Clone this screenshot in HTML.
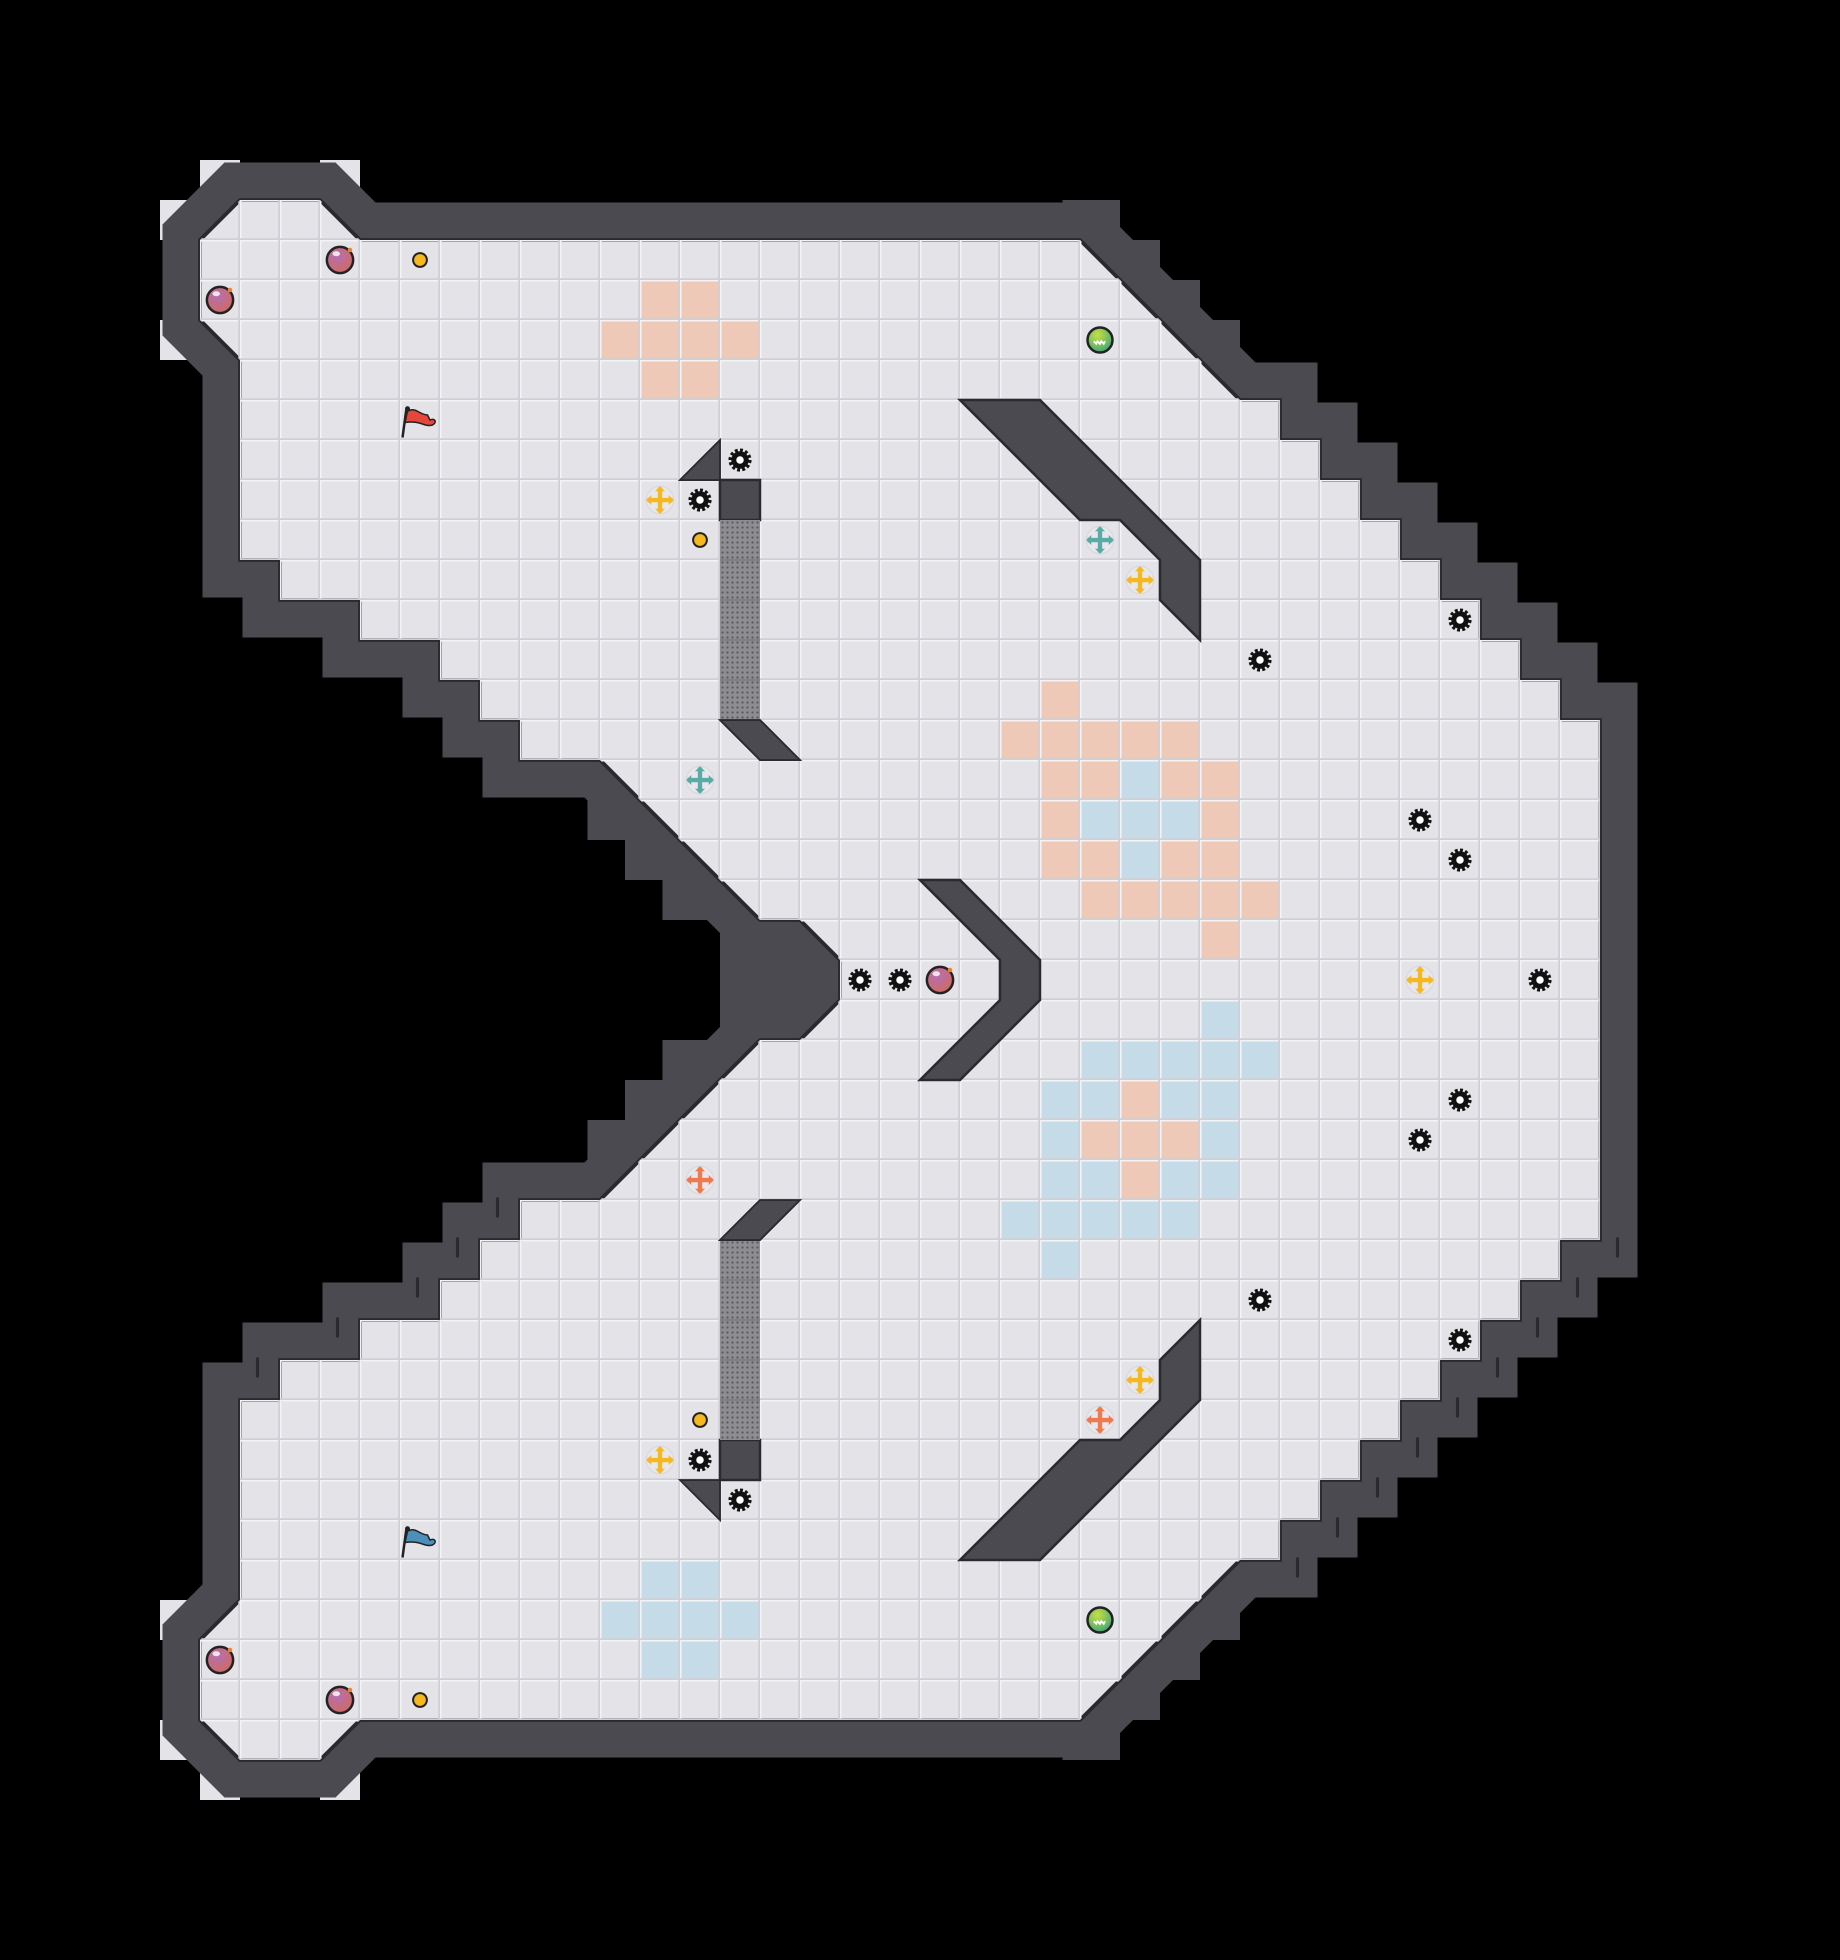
<!DOCTYPE html>
<html><head><meta charset="utf-8"><style>
html,body{margin:0;padding:0;background:#000;}
svg{display:block}
</style></head><body>
<svg width="1840" height="1960" viewBox="0 0 1472 1568" xmlns="http://www.w3.org/2000/svg">
<defs>
<pattern id="gl" width="32" height="32" patternUnits="userSpaceOnUse">
<rect x="0" y="0" width="32" height="1.2" fill="#f3f3f6"/>
<rect x="0" y="0" width="1.2" height="32" fill="#f3f3f6"/>
<rect x="0" y="30.6" width="32" height="1.4" fill="#cfcfd6"/>
<rect x="30.6" y="0" width="1.4" height="32" fill="#cfcfd6"/>
</pattern>
<pattern id="dots" width="4" height="4" patternUnits="userSpaceOnUse">
<rect width="4" height="4" fill="#8e8e92"/>
<circle cx="2" cy="2" r="0.9" fill="#5a5a5e"/>
</pattern>
<polygon id="fl" points="160,192 192,160 256,160 288,192 864,192 992,320 1024,320 1024,352 1056,352 1056,384 1088,384 1088,416 1120,416 1120,448 1152,448 1152,480 1184,480 1184,512 1216,512 1216,544 1248,544 1248,576 1280,576 1280,992 1248,992 1248,1024 1216,1024 1216,1056 1184,1056 1184,1088 1152,1088 1152,1120 1120,1120 1120,1152 1088,1152 1088,1184 1056,1184 1056,1216 1024,1216 1024,1248 992,1248 864,1376 288,1376 256,1408 192,1408 160,1376 160,1312 192,1280 192,1120 224,1120 224,1088 288,1088 288,1056 352,1056 352,1024 384,1024 384,992 416,992 416,960 480,960 608,832 640,832 672,800 672,768 640,736 608,736 480,608 416,608 416,576 384,576 384,544 352,544 352,512 288,512 288,480 224,480 224,448 192,448 192,288 160,256"/>
<g id="gear">
<circle r="7.5" fill="none" stroke="#111" stroke-width="3.5" stroke-dasharray="2.2 1.7"/>
<circle r="7" fill="#111"/>
<circle r="3" fill="#fff"/>
</g>
<radialGradient id="pg" cx="0.4" cy="0.35" r="0.7"><stop offset="0" stop-color="#b66fb5"/><stop offset="1" stop-color="#d06a5a"/></radialGradient>
<g id="orb">
<circle r="10.5" fill="url(#pg)" stroke="#222" stroke-width="2"/>
<ellipse cx="-3" cy="-5" rx="3" ry="2" fill="#fff" opacity="0.8"/>
<circle cx="8" cy="-8" r="1.8" fill="#f08030"/>
</g>
<radialGradient id="gg" cx="0.4" cy="0.3" r="0.8"><stop offset="0" stop-color="#c8e040"/><stop offset="1" stop-color="#30a080"/></radialGradient>
<g id="gorb">
<circle r="10" fill="url(#gg)" stroke="#222" stroke-width="2"/>
<path d="M-5 1 l2 2 l1-2 l2 2 l1-2 l2 2 l1-2" stroke="#fff" stroke-width="1.5" fill="none"/>
</g>
<g id="dot"><circle r="5.5" fill="#f5b820" stroke="#222" stroke-width="1.6"/></g>
<g id="cross">
<circle r="11" fill="#e8e8ec" stroke="#d8d8de"/>
<path d="M-10 0 H10 M0 -10 V10" stroke="currentColor" stroke-width="3.5"/>
<path d="M-11 0 l4 -4 v8 z M11 0 l-4 -4 v8 z M0 -11 l-4 4 h8 z M0 11 l-4 -4 h8 z" fill="currentColor"/>
</g>
<g id="obst">
<polygon points="768,320 832,320 960,448 960,512 928,480 928,448 896,416 864,416" fill="#4b4a50" stroke="#2a2a2e" stroke-width="2"/>
<polygon points="544,384 576,352 576,384" fill="#4b4a50" stroke="#2a2a2e" stroke-width="1.5"/>
<rect x="576" y="384" width="32" height="32" fill="#4b4a50" stroke="#2a2a2e" stroke-width="2"/>
<rect x="576" y="416" width="32" height="160" fill="url(#dots)"/>
<path d="M576 448H608M576 480H608M576 512H608M576 544H608" stroke="#777" stroke-width="1"/>
<polygon points="576,576 608,576 640,608 608,608" fill="#4b4a50" stroke="#2a2a2e" stroke-width="1.5"/>
</g>
<g id="steps" fill="#4b4a50">
<rect x="850" y="160" width="46" height="32"/>
<rect x="880" y="192" width="48" height="32"/>
<rect x="912" y="224" width="48" height="32"/>
<rect x="944" y="256" width="48" height="34"/>
<rect x="470" y="608" width="42" height="64"/>
<rect x="500" y="640" width="44" height="64"/>
<rect x="530" y="672" width="46" height="64"/>
</g>
</defs>
<rect width="1472" height="1568" fill="#000"/>
<rect x="160" y="128" width="32" height="32" fill="#e4e4e8"/>
<rect x="256" y="128" width="32" height="32" fill="#e4e4e8"/>
<rect x="128" y="160" width="32" height="32" fill="#e4e4e8"/>
<rect x="128" y="256" width="32" height="32" fill="#e4e4e8"/>
<rect x="160" y="1408" width="32" height="32" fill="#e4e4e8"/>
<rect x="256" y="1408" width="32" height="32" fill="#e4e4e8"/>
<rect x="128" y="1376" width="32" height="32" fill="#e4e4e8"/>
<rect x="128" y="1280" width="32" height="32" fill="#e4e4e8"/>
<rect x="576" y="736" width="90" height="96" fill="#4b4a50"/>
<use href="#steps"/>
<g transform="translate(0,1568) scale(1,-1)"><use href="#steps"/></g>
<use href="#fl" fill="#4b4a50" stroke="#4b4a50" stroke-width="60" stroke-linejoin="miter" stroke-miterlimit="3"/>
<use href="#fl" fill="#e3e3e8" stroke="#2a2a2e" stroke-width="3"/>
<g fill="#efc9b8">
<rect x="512" y="224" width="64" height="32"/><rect x="480" y="256" width="128" height="32"/><rect x="512" y="288" width="64" height="32"/>
<rect x="832" y="544" width="32" height="32"/><rect x="800" y="576" width="160" height="32"/>
<rect x="832" y="608" width="64" height="32"/><rect x="928" y="608" width="64" height="32"/>
<rect x="832" y="640" width="32" height="32"/><rect x="960" y="640" width="32" height="32"/>
<rect x="832" y="672" width="64" height="32"/><rect x="928" y="672" width="64" height="32"/>
<rect x="864" y="704" width="160" height="32"/><rect x="960" y="736" width="32" height="32"/>
<rect x="896" y="864" width="32" height="32"/><rect x="864" y="896" width="96" height="32"/><rect x="896" y="928" width="32" height="32"/>
</g>
<g fill="#c6dbe8">
<rect x="512" y="1248" width="64" height="32"/><rect x="480" y="1280" width="128" height="32"/><rect x="512" y="1312" width="64" height="32"/>
<rect x="896" y="608" width="32" height="32"/><rect x="864" y="640" width="96" height="32"/><rect x="896" y="672" width="32" height="32"/>
<rect x="960" y="800" width="32" height="32"/><rect x="864" y="832" width="160" height="32"/>
<rect x="832" y="864" width="64" height="32"/><rect x="928" y="864" width="64" height="32"/>
<rect x="832" y="896" width="32" height="32"/><rect x="960" y="896" width="32" height="32"/>
<rect x="832" y="928" width="64" height="32"/><rect x="928" y="928" width="64" height="32"/>
<rect x="800" y="960" width="160" height="32"/><rect x="832" y="992" width="32" height="32"/>
</g>
<use href="#fl" fill="url(#gl)" stroke="none"/>
<use href="#obst"/>
<g transform="translate(0,1568) scale(1,-1)"><use href="#obst"/></g>
<polygon points="736,704 768,704 832,768 832,800 768,864 736,864 800,800 800,768" fill="#4b4a50" stroke="#2a2a2e" stroke-width="2"/>
<g stroke="#2a2a2e" stroke-width="2.5">
<path d="M1294 990v16M1262 1022v16M1230 1054v16M1198 1086v16M1166 1118v16M1134 1150v16M1102 1182v16M1070 1214v16M1038 1246v16"/>
<path d="M206 1086v16M270 1054v16M334 1022v16M366 990v16M398 958v16"/>
</g>
<g>
<use href="#gear" x="592" y="368"/><use href="#gear" x="560" y="400"/><use href="#gear" x="1168" y="496"/>
<use href="#gear" x="1008" y="528"/><use href="#gear" x="1136" y="656"/><use href="#gear" x="1168" y="688"/>
<use href="#gear" x="688" y="784"/><use href="#gear" x="720" y="784"/><use href="#gear" x="1232" y="784"/>
<use href="#gear" x="1168" y="880"/><use href="#gear" x="1136" y="912"/><use href="#gear" x="1008" y="1040"/>
<use href="#gear" x="1168" y="1072"/><use href="#gear" x="560" y="1168"/><use href="#gear" x="592" y="1200"/>
<use href="#orb" x="272" y="208"/><use href="#orb" x="176" y="240"/><use href="#orb" x="752" y="784"/>
<use href="#orb" x="176" y="1328"/><use href="#orb" x="272" y="1360"/>
<use href="#dot" x="336" y="208"/><use href="#dot" x="560" y="432"/><use href="#dot" x="560" y="1136"/><use href="#dot" x="336" y="1360"/>
<use href="#gorb" x="880" y="272"/><use href="#gorb" x="880" y="1296"/>
<g style="color:#f5b820"><use href="#cross" x="528" y="400"/><use href="#cross" x="912" y="464"/><use href="#cross" x="1136" y="784"/><use href="#cross" x="912" y="1104"/><use href="#cross" x="528" y="1168"/></g>
<g style="color:#5aaaa8"><use href="#cross" x="880" y="432"/><use href="#cross" x="560" y="624"/></g>
<g style="color:#f07a50"><use href="#cross" x="560" y="944"/><use href="#cross" x="880" y="1136"/></g>
</g>
<g transform="translate(322,322)">
<path d="M3 6 L0 28" stroke="#222" stroke-width="2"/>
<path d="M4 7 C10 3 14 10 20 10 L22 14 C26 12 28 16 24 18 C18 20 14 14 2 16 Z" fill="#e8453c" stroke="#222" stroke-width="1.2"/>
<circle cx="4" cy="5" r="2" fill="#222"/>
</g>
<g transform="translate(322,1218)">
<path d="M3 6 L0 28" stroke="#222" stroke-width="2"/>
<path d="M4 7 C10 3 14 10 20 10 L22 14 C26 12 28 16 24 18 C18 20 14 14 2 16 Z" fill="#4a90b8" stroke="#222" stroke-width="1.2"/>
<circle cx="4" cy="5" r="2" fill="#222"/>
</g>
</svg>
</body></html>
